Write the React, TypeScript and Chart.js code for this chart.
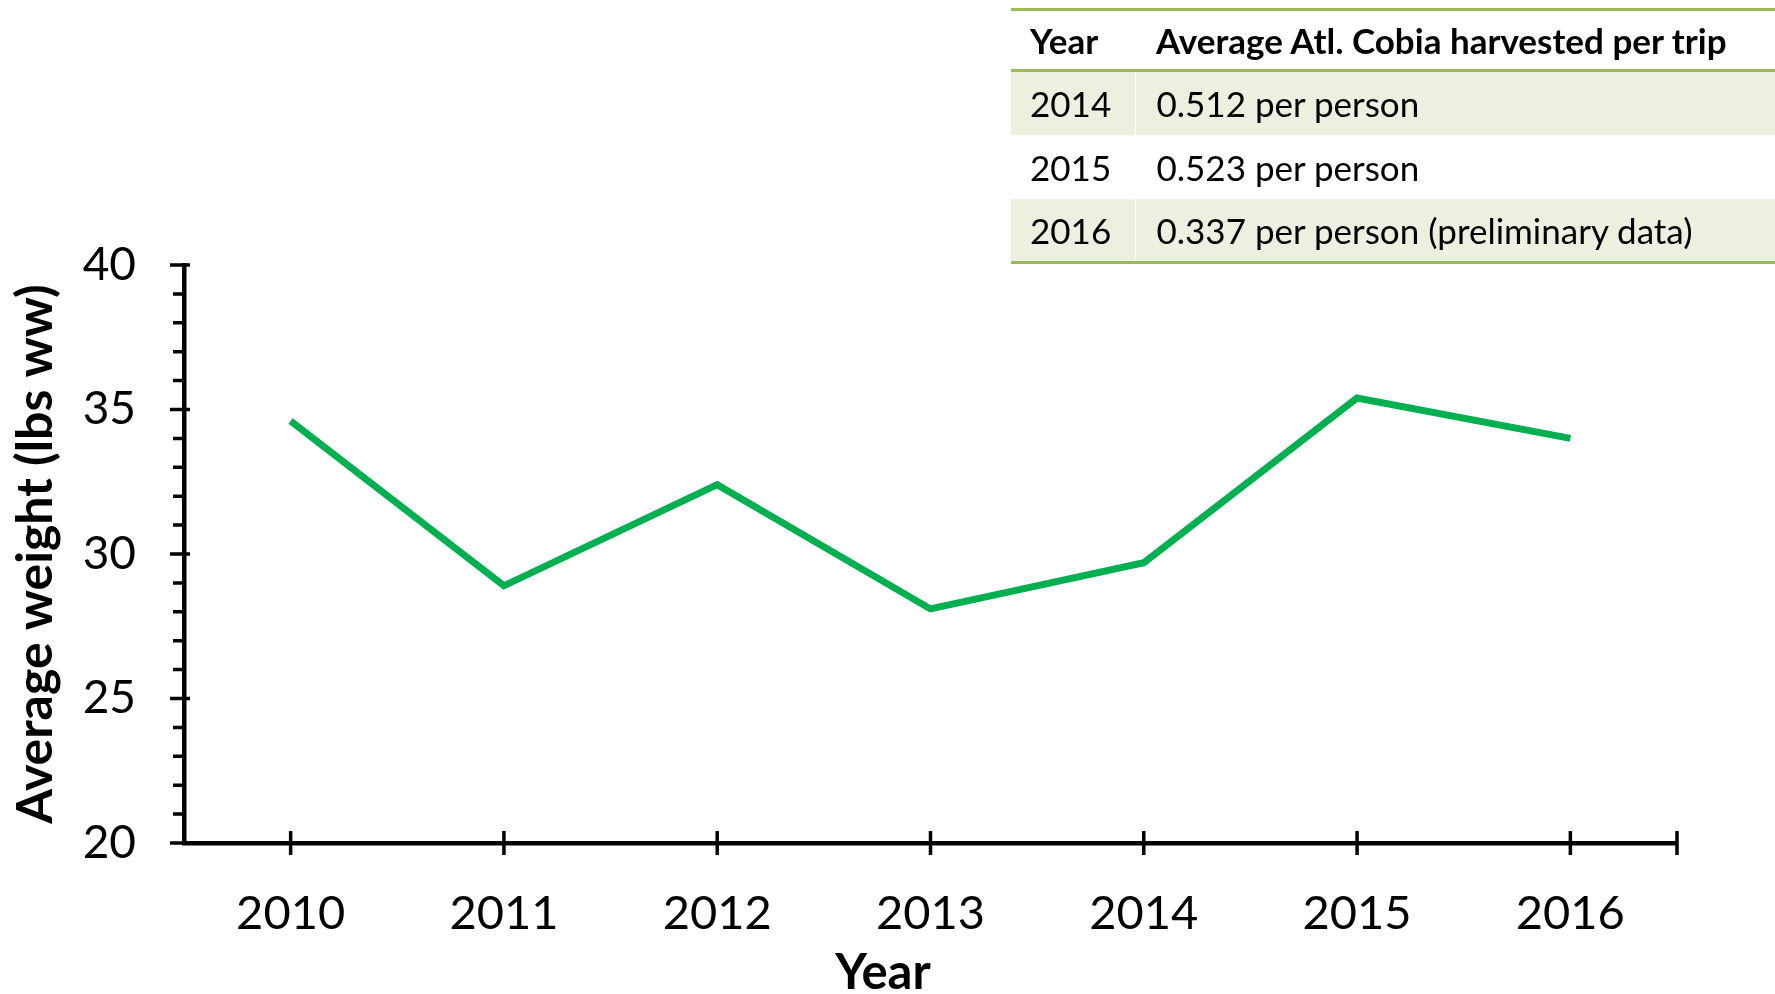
import React, { useEffect, useRef } from "react";
import { Chart, registerables } from "chart.js";

Chart.register(...registerables);

const years = ["2010", "2011", "2012", "2013", "2014", "2015", "2016"];
const avgWeight = [34.6, 28.9, 32.4, 28.1, 29.7, 35.4, 34.0];
const yMin = 20;
const yMax = 40;
const yMajorStep = 5;

const tableYears = ["2014", "2015", "2016"];
const tableValues = ["0.512 per person", "0.523 per person", "0.337 per person (preliminary data)"];
const tableHeader = ["Year", "Average Atl. Cobia harvested per trip"];

const FONT = "Lato, 'Open Sans', sans-serif";

const axisPlugin = {
  id: "axisTicks",
  afterDraw(chart: any) {
    const ctx = chart.ctx;
    const { left, right, bottom } = chart.chartArea;
    const xs = chart.scales.x;
    const ys = chart.scales.y;
    ctx.save();
    ctx.strokeStyle = "#000";
    ctx.lineWidth = 3.5;
    ctx.beginPath();
    for (let v = yMin; v <= yMax; v++) {
      const py = ys.getPixelForValue(v);
      if (v % yMajorStep === 0) {
        ctx.moveTo(left - 14, py);
        ctx.lineTo(left + 6, py);
      } else {
        ctx.moveTo(left - 11, py);
        ctx.lineTo(left, py);
      }
    }
    for (let i = 0; i < years.length; i++) {
      const px = xs.getPixelForValue(i);
      ctx.moveTo(px, bottom - 12);
      ctx.lineTo(px, bottom + 12);
    }
    ctx.moveTo(right, bottom - 12);
    ctx.lineTo(right, bottom + 12);
    ctx.stroke();
    // x-axis title
    ctx.fillStyle = "#000";
    ctx.font = `bold 49px ${FONT}`;
    ctx.textAlign = "center";
    ctx.textBaseline = "middle";
    ctx.fillText("Year", 883, 973);
    ctx.restore();
  },
};

export default function App() {
  const ref = useRef<HTMLCanvasElement>(null);
  useEffect(() => {
    if (!ref.current) return;
    const chart = new Chart(ref.current, {
      type: "line",
      data: {
        labels: years,
        datasets: [
          {
            data: avgWeight,
            borderColor: "#00B050",
            backgroundColor: "#00B050",
            borderWidth: 7,
            pointRadius: 0,
            tension: 0,
          },
        ],
      },
      options: {
        animation: false,
        responsive: false,
        layout: { padding: { left: 0, top: 265, right: 98, bottom: 0 } },
        plugins: { legend: { display: false }, tooltip: { enabled: false } },
        scales: {
          x: {
            type: "category",
            offset: true,
            grid: { display: false, drawTicks: false },
            border: { display: true, color: "#000", width: 4.5 },
            ticks: {
              color: "#000",
              font: { family: FONT, size: 47 },
              padding: 43,
              maxRotation: 0,
            },
            afterFit: (s: any) => {
              s.height = 994 - 843;
            },
          },
          y: {
            min: yMin,
            max: yMax,
            grid: { display: false, drawTicks: false },
            border: { display: true, color: "#000", width: 4.5 },
            ticks: {
              stepSize: yMajorStep,
              color: "#000",
              font: { family: FONT, size: 46 },
              padding: 48,
            },
            title: {
              display: true,
              text: "Average weight (lbs ww)",
              color: "#000",
              font: { family: FONT, size: 50, weight: "bold" },
              padding: { top: 6, bottom: 0 },
            },
            afterFit: (s: any) => {
              s.width = 184;
            },
          },
        },
      },
      plugins: [axisPlugin],
    });
    return () => chart.destroy();
  }, []);

  const green = "#9BBB59";
  const shade = "#EBF1DE";
  const cellBase: React.CSSProperties = {
    fontFamily: FONT,
    fontSize: 35,
    color: "#000",
    padding: 0,
    verticalAlign: "middle",
    whiteSpace: "nowrap",
  };

  return (
    <div style={{ position: "fixed", left: 0, top: 0, width: 1775, height: 994, background: "#fff" }}>
      <canvas ref={ref} width={1775} height={994} style={{ position: "absolute", left: 0, top: 0 }} />
      <table
        style={{
          position: "absolute",
          left: 1011,
          top: 8,
          width: 764,
          tableLayout: "fixed",
          borderCollapse: "collapse",
          borderTop: `3px solid ${green}`,
          borderBottom: `3px solid ${green}`,
        }}
      >
        <colgroup>
          <col style={{ width: 124 }} />
          <col />
        </colgroup>
        <thead>
          <tr style={{ height: 61, borderBottom: `3px solid ${green}` }}>
            <th style={{ ...cellBase, fontWeight: 700, textAlign: "left", paddingLeft: 19 }}>{tableHeader[0]}</th>
            <th style={{ ...cellBase, fontWeight: 700, textAlign: "left", paddingLeft: 21 }}>{tableHeader[1]}</th>
          </tr>
        </thead>
        <tbody>
          {tableYears.map((y, i) => (
            <tr key={y} style={{ height: 64, background: i % 2 === 0 ? shade : "#fff" }}>
              <td style={{ ...cellBase, paddingLeft: 19 }}>{y}</td>
              <td style={{ ...cellBase, paddingLeft: 21, borderLeft: "1px solid #fff" }}>{tableValues[i]}</td>
            </tr>
          ))}
        </tbody>
      </table>
    </div>
  );
}
